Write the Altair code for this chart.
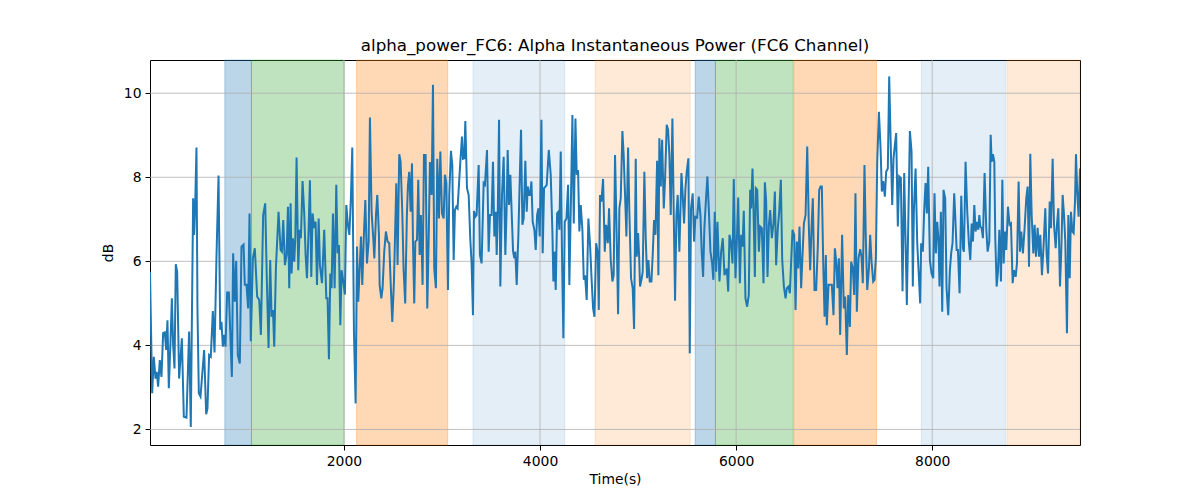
import altair as alt
import pandas as pd

# (time, dB) vertices, grouped by stretch of the time axis
seg1 = [(22, 5.75), (44, 2.86), (61, 3.73), (78, 3.21), (91, 3.37), (105, 3.02), (122, 3.65), (139, 3.25),
        (156, 4.29), (173, 4.31), (187, 3.89), (200, 4.60), (214, 2.98), (231, 4.09), (245, 5.12), (258, 4.01),
        (272, 3.45), (285, 5.93), (299, 5.75), (319, 3.21), (347, 4.17), (367, 2.30), (394, 2.28), (421, 4.33),
        (438, 2.06), (462, 7.50), (472, 6.63), (483, 7.34), (496, 8.71), (506, 4.88), (520, 2.86), (537, 2.78),
        (554, 3.29), (574, 3.89), (595, 2.36), (608, 2.50), (625, 3.77), (642, 3.73), (663, 4.82), (680, 3.83),
        (700, 6.11), (721, 8.04), (738, 4.37), (751, 4.56), (765, 3.97), (778, 4.25), (792, 3.97), (809, 5.26),
        (826, 5.26), (857, 3.25), (870, 6.19), (887, 5.04), (901, 6.01), (918, 3.77), (938, 3.57), (955, 6.35),
        (976, 6.40), (989, 5.44), (1006, 5.44), (1023, 4.88), (1037, 7.14), (1050, 4.10), (1071, 6.07),
        (1091, 6.31), (1115, 5.16), (1136, 5.08), (1153, 4.25), (1176, 7.10)]
seg2 = [(1197, 7.38), (1214, 5.52), (1231, 3.94), (1248, 6.03), (1262, 4.68), (1276, 4.84), (1289, 3.97),
        (1306, 5.83), (1333, 7.18), (1354, 6.27), (1367, 6.23), (1381, 6.98), (1398, 5.91), (1415, 6.15),
        (1429, 7.30), (1442, 5.36), (1456, 7.38), (1466, 5.71), (1480, 6.55), (1493, 5.99), (1504, 6.55),
        (1517, 8.47), (1534, 5.79), (1548, 6.75), (1561, 6.55), (1578, 7.91), (1595, 7.14), (1609, 6.15),
        (1623, 5.60), (1640, 6.79), (1653, 7.93), (1667, 5.63), (1680, 7.14), (1697, 6.79), (1711, 6.94),
        (1725, 5.44), (1742, 7.02), (1755, 5.91), (1776, 5.48), (1799, 6.75), (1820, 5.12), (1833, 5.12),
        (1847, 3.67), (1861, 5.71), (1874, 5.36), (1888, 7.14), (1905, 5.36), (1922, 7.82), (1935, 6.19),
        (1949, 6.39), (1963, 4.48), (1976, 5.79), (1993, 5.52), (2010, 5.21), (2024, 7.34), (2041, 6.85),
        (2055, 6.63), (2071, 7.50), (2085, 8.71), (2102, 4.33), (2119, 2.62), (2133, 6.35), (2146, 5.04),
        (2174, 6.59), (2187, 5.44), (2204, 6.67), (2218, 7.46), (2235, 5.95), (2252, 6.47), (2265, 9.42),
        (2282, 7.18), (2299, 6.55), (2310, 6.07), (2327, 7.10), (2340, 7.58), (2357, 6.63)]
seg3 = [(2364, 5.44), (2381, 5.12), (2394, 5.36), (2411, 6.23), (2428, 6.71), (2445, 6.47), (2462, 6.43),
        (2476, 5.52), (2493, 4.56), (2510, 5.52), (2534, 7.86), (2547, 5.91), (2564, 8.55), (2578, 8.37),
        (2595, 7.18), (2608, 5.83), (2625, 5.00), (2642, 7.10), (2653, 7.82), (2666, 8.13), (2680, 7.18),
        (2694, 8.33), (2704, 6.47), (2717, 5.00), (2728, 6.47), (2745, 6.51), (2758, 7.94), (2772, 6.15),
        (2785, 7.10), (2802, 5.44), (2816, 8.53), (2833, 8.53), (2850, 4.88), (2864, 6.51), (2877, 8.36),
        (2894, 7.58), (2908, 10.20), (2921, 5.83), (2938, 5.36), (2952, 8.44), (2969, 7.02), (2983, 8.61),
        (3000, 7.14), (3017, 7.02), (3030, 8.06), (3044, 7.86), (3061, 5.32), (3074, 7.58), (3091, 8.63),
        (3105, 8.29), (3119, 6.03), (3132, 7.22), (3146, 7.30), (3159, 7.26), (3173, 7.82), (3187, 8.37),
        (3204, 8.97), (3214, 8.44), (3227, 8.45), (3238, 9.34), (3255, 7.74), (3272, 7.58), (3289, 6.51),
        (3302, 5.95), (3316, 4.72), (3326, 7.20), (3340, 7.06), (3353, 7.10), (3374, 8.29), (3387, 6.15),
        (3404, 5.95), (3425, 7.86), (3438, 7.82), (3459, 8.65), (3476, 6.23), (3489, 7.10), (3506, 7.10),
        (3520, 8.37), (3534, 6.59)]
seg4 = [(3548, 7.18), (3558, 6.15), (3568, 7.06), (3582, 9.37), (3595, 5.40), (3612, 7.58), (3629, 8.49),
        (3646, 6.15), (3660, 7.34), (3670, 8.65), (3684, 7.34), (3697, 8.06), (3708, 7.34), (3725, 6.23),
        (3738, 6.07), (3748, 6.23), (3762, 5.44), (3779, 6.63), (3789, 7.58), (3806, 9.13), (3820, 6.87),
        (3833, 7.02), (3850, 8.39), (3864, 7.18), (3874, 7.78), (3888, 7.58), (3898, 7.58), (3912, 7.90),
        (3925, 6.94), (3942, 6.75), (3956, 6.27), (3970, 7.10), (3983, 7.26), (3997, 6.59), (4014, 9.37),
        (4027, 6.19), (4041, 7.74), (4055, 7.78), (4068, 7.82), (4089, 8.65), (4109, 8.06), (4126, 6.71),
        (4136, 5.52), (4146, 6.23), (4160, 5.32), (4174, 7.14), (4187, 7.18), (4197, 6.75), (4211, 8.61),
        (4225, 5.99), (4238, 4.17), (4252, 6.94), (4269, 7.02), (4286, 7.82), (4299, 5.44), (4316, 7.58),
        (4330, 9.48), (4344, 6.90), (4361, 9.40), (4374, 8.06), (4388, 8.17), (4401, 6.71), (4415, 7.34),
        (4432, 6.75), (4446, 5.56), (4459, 5.67), (4476, 5.08), (4493, 7.02), (4510, 6.39), (4527, 5.52),
        (4541, 4.88), (4555, 4.68), (4572, 6.43), (4589, 6.19), (4599, 4.84), (4612, 7.58), (4626, 7.42),
        (4643, 7.96), (4660, 6.23), (4674, 6.87), (4691, 6.43), (4704, 7.26)]
seg5 = [(4721, 6.03), (4738, 5.52), (4751, 5.67), (4765, 8.53), (4779, 6.94), (4796, 4.74), (4809, 7.26),
        (4823, 7.50), (4840, 9.10), (4853, 8.53), (4867, 7.58), (4881, 6.59), (4898, 8.71), (4911, 7.18),
        (4928, 5.60), (4945, 5.36), (4959, 4.39), (4976, 8.44), (4986, 6.11), (5000, 6.67), (5010, 6.15),
        (5020, 5.40), (5034, 5.56), (5047, 5.75), (5064, 8.13), (5078, 6.55), (5092, 5.60), (5105, 6.03),
        (5119, 5.52), (5136, 5.52), (5149, 6.15), (5163, 6.98), (5177, 6.63), (5194, 8.39), (5207, 5.67),
        (5217, 8.93), (5231, 7.78), (5245, 8.89), (5262, 7.26), (5275, 7.94), (5292, 9.25), (5306, 9.13),
        (5319, 8.53), (5333, 7.10), (5350, 9.40), (5364, 7.10), (5377, 5.06), (5391, 7.10), (5404, 7.58),
        (5421, 6.23), (5442, 8.10), (5455, 7.58), (5469, 6.90), (5483, 7.74), (5496, 8.13), (5513, 8.45),
        (5527, 3.81), (5540, 7.26), (5557, 7.62), (5571, 6.47), (5585, 7.06), (5602, 7.04), (5619, 7.54),
        (5636, 7.10), (5649, 6.23), (5663, 5.63), (5676, 6.79), (5693, 7.50), (5707, 8.02), (5721, 7.26),
        (5738, 6.23), (5755, 5.95), (5768, 5.56), (5782, 7.18), (5796, 5.75), (5809, 6.94), (5830, 5.52),
        (5847, 6.23), (5864, 6.55), (5881, 5.67)]
seg6 = [(5888, 5.71), (5905, 5.83), (5919, 5.28), (5932, 6.63), (5946, 6.47), (5963, 5.95), (5976, 7.96),
        (5993, 5.60), (6007, 6.47), (6021, 7.52), (6038, 5.48), (6051, 6.63), (6065, 6.35), (6078, 7.20),
        (6095, 5.12), (6112, 4.92), (6129, 5.20), (6143, 7.70), (6153, 7.26), (6167, 8.21), (6177, 7.26),
        (6191, 5.63), (6201, 7.74), (6215, 7.70), (6232, 6.23), (6245, 6.83), (6262, 6.79), (6279, 5.48),
        (6293, 7.88), (6306, 7.42), (6320, 5.63), (6334, 6.87), (6347, 7.22), (6364, 6.55), (6381, 6.90),
        (6395, 7.66), (6408, 5.91), (6425, 6.79), (6439, 7.18), (6456, 7.94), (6470, 6.03), (6487, 5.40),
        (6504, 5.12), (6517, 5.36), (6534, 5.40), (6548, 5.24), (6561, 5.99), (6575, 6.75), (6592, 6.63),
        (6606, 4.84), (6619, 6.47), (6633, 5.83), (6646, 6.83), (6663, 5.36), (6677, 6.15), (6691, 6.90),
        (6708, 7.10), (6725, 8.73), (6742, 6.79), (6755, 5.79), (6769, 6.79), (6782, 7.50), (6799, 5.32),
        (6816, 5.32), (6833, 6.35), (6847, 7.70), (6861, 7.78), (6874, 7.78), (6888, 5.99), (6902, 4.68),
        (6915, 6.15), (6925, 4.48), (6942, 5.44), (6959, 5.44), (6976, 5.44), (6993, 4.72), (7007, 6.31),
        (7021, 5.99), (7034, 5.36), (7048, 6.07), (7061, 4.25)]
seg7 = [(7081, 6.63), (7098, 4.88), (7112, 5.16), (7129, 3.77), (7143, 5.20), (7160, 4.44), (7173, 5.99),
        (7190, 5.83), (7204, 5.20), (7217, 7.62), (7231, 4.80), (7248, 6.07), (7265, 6.29), (7279, 6.11),
        (7292, 5.48), (7309, 8.29), (7323, 6.47), (7337, 5.32), (7354, 5.83), (7367, 6.63), (7381, 5.99),
        (7398, 5.52), (7411, 5.56), (7425, 6.07), (7439, 8.37), (7456, 9.56), (7473, 8.69), (7486, 7.66),
        (7500, 7.91), (7517, 7.54), (7530, 8.13), (7547, 8.21), (7561, 10.40), (7575, 8.93), (7592, 7.34),
        (7605, 8.45), (7619, 8.77), (7632, 9.05), (7649, 6.83), (7663, 8.02), (7680, 7.98), (7697, 5.29),
        (7714, 8.10), (7741, 4.96), (7772, 9.10), (7789, 8.61), (7802, 5.40), (7813, 7.22), (7830, 8.21),
        (7847, 6.43), (7877, 5.00), (7887, 6.43), (7904, 6.23), (7918, 7.22), (7932, 7.86), (7945, 7.14),
        (7959, 8.25), (7976, 6.03), (7993, 5.71), (8010, 5.60), (8023, 7.62), (8037, 6.19), (8051, 6.94),
        (8064, 6.51), (8074, 5.40), (8088, 7.18), (8102, 4.80), (8115, 7.70), (8132, 7.50), (8146, 5.36),
        (8163, 4.72), (8180, 5.79), (8193, 6.19), (8207, 6.43), (8224, 7.62)]
seg8 = [(8235, 7.06), (8249, 6.27), (8262, 6.27), (8279, 5.24), (8296, 7.56), (8313, 6.31), (8323, 6.23),
        (8340, 8.37), (8357, 7.18), (8374, 6.43), (8388, 6.03), (8402, 6.90), (8415, 6.47), (8429, 7.34),
        (8442, 6.71), (8456, 6.94), (8470, 6.75), (8480, 7.10), (8490, 6.83), (8504, 6.79), (8517, 6.55),
        (8534, 8.10), (8551, 6.79), (8565, 6.23), (8582, 6.47), (8596, 9.01), (8606, 8.37), (8619, 8.55),
        (8633, 8.37), (8643, 6.55), (8657, 5.40), (8670, 5.75), (8684, 6.75), (8701, 5.52), (8715, 7.94),
        (8728, 5.95), (8742, 6.71), (8755, 6.27), (8772, 7.30), (8789, 6.87), (8803, 6.90), (8820, 5.48),
        (8834, 5.79), (8851, 5.63), (8864, 5.95), (8881, 7.90), (8895, 6.23), (8908, 6.71), (8925, 6.19),
        (8942, 6.79), (8959, 7.50), (8973, 7.78), (8987, 5.87), (9000, 8.56), (9014, 7.10), (9031, 6.19),
        (9044, 6.87), (9058, 6.11), (9075, 6.80), (9089, 6.11), (9102, 6.63), (9119, 5.67), (9136, 6.39),
        (9153, 7.26), (9167, 6.15), (9181, 5.71), (9198, 7.42), (9211, 6.79), (9228, 8.44), (9242, 6.87),
        (9259, 6.31), (9272, 6.87), (9286, 7.26), (9303, 5.40), (9317, 6.31), (9330, 7.58), (9344, 7.10),
        (9357, 6.47), (9374, 4.29), (9388, 7.10), (9402, 5.60), (9415, 7.18), (9429, 6.71), (9442, 6.67),
        (9456, 7.42), (9466, 8.55), (9480, 7.58), (9493, 7.06), (9507, 8.21)]

# shaded condition spans
span_start = [785, 1057, 2129, 3316, 4561, 5582, 5789, 6589, 7888, 8763]
span_end = [1057, 2003, 3058, 4252, 5531, 5789, 6582, 7432, 8749, 9507]
span_color = ["#1f77b4", "#2ca02c", "#ff7f0e", "#1f77b4", "#ff7f0e",
              "#1f77b4", "#2ca02c", "#ff7f0e", "#1f77b4", "#ff7f0e"]
span_alpha = [0.3, 0.3, 0.3, 0.12, 0.16, 0.3, 0.3, 0.3, 0.12, 0.16]

x_ticks = [2000, 4000, 6000, 8000]
y_ticks = [2, 4, 6, 8, 10]

pts = seg1 + seg2 + seg3 + seg4 + seg5 + seg6 + seg7 + seg8
df = pd.DataFrame(pts, columns=["t", "v"])
spans = pd.DataFrame({"start": span_start, "end": span_end, "color": span_color, "alpha": span_alpha})

FONT = "DejaVu Sans"
xs = alt.Scale(domain=[22, 9507], nice=False, zero=False)
ys = alt.Scale(domain=[1.63, 10.79], nice=False, zero=False)

span_layer = alt.Chart(spans).mark_rect(strokeWidth=1).encode(
    x=alt.X("start:Q", scale=xs),
    x2="end:Q",
    fill=alt.Fill("color:N", scale=None),
    stroke=alt.Stroke("color:N", scale=None),
    fillOpacity=alt.FillOpacity("alpha:Q", scale=None),
    strokeOpacity=alt.StrokeOpacity("alpha:Q", scale=None),
)

vgrid = alt.Chart(pd.DataFrame({"t": x_ticks})).mark_rule(color="#b0b0b0", strokeWidth=0.8).encode(
    x=alt.X("t:Q", scale=xs)
)
hgrid = alt.Chart(pd.DataFrame({"v": y_ticks})).mark_rule(color="#b0b0b0", strokeWidth=0.8).encode(
    y=alt.Y("v:Q", scale=ys)
)

line = alt.Chart(df).mark_line(color="#1f77b4", strokeWidth=2, clip=True).encode(
    x=alt.X("t:Q", scale=xs, title="Time(s)",
            axis=alt.Axis(values=x_ticks, format="d", grid=False)),
    y=alt.Y("v:Q", scale=ys, title="dB",
            axis=alt.Axis(values=y_ticks, format="d", grid=False)),
)

chart = alt.layer(span_layer, vgrid, hgrid, line).properties(
    width=930,
    height=385,
    title=alt.TitleParams(
        "alpha_power_FC6: Alpha Instantaneous Power (FC6 Channel)",
        font=FONT, fontSize=16.7, fontWeight="normal", color="black",
        anchor="middle", offset=5,
    ),
    autosize=alt.AutoSizeParams(type="none"),
    padding={"left": 142, "top": 52, "right": 112, "bottom": 47},
).configure_view(
    stroke="black", strokeWidth=1
).configure_axis(
    domain=False,
    tickColor="black", tickSize=5, tickWidth=1,
    labelFont=FONT, labelFontSize=13.9, labelColor="black", labelPadding=4,
    titleFont=FONT, titleFontSize=13.9, titleFontWeight="normal", titleColor="black",
).configure_axisX(titlePadding=5).configure_axisY(titlePadding=8)

chart.save("out.html", embed_options={"renderer": "svg", "actions": False})
